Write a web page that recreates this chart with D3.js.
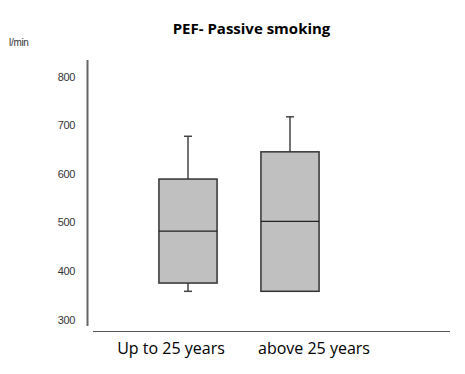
<!DOCTYPE html>
<html>
<head>
<meta charset="utf-8">
<script src="https://cdn.jsdelivr.net/npm/d3@7"></script>
<style>
  body { margin: 0; background: #fff; }
</style>
</head>
<body>
<svg id="chart" width="465" height="374"></svg>
<script>
// groups and box statistics (l/min)
var groups = ["Up to 25 years", "above 25 years"];
var whiskerLow = [358, 358];
var q1 = [375, 358];
var median = [482, 502];
var q3 = [589, 645];
var whiskerHigh = [677, 717];
var yTicks = [300, 400, 500, 600, 700, 800];
// the category labels sit a bit off the box centres in the original
var labelShift = [-17, 24];

var svg = d3.select("#chart");

var data = groups.map(function(g, i) {
    return {group: g, lo: whiskerLow[i], q1: q1[i], med: median[i], q3: q3[i], hi: whiskerHigh[i]};
});

// scales
var x = d3.scaleBand()
            .domain(groups)
            .range([137, 341])
            .paddingInner(0.43)
            .paddingOuter(0.215);

var y = d3.scaleLinear()
            .domain([300, 800])
            .range([319.5, 76.5]);

// title
svg.append("text")
    .attr("x", 251.5)
    .attr("y", 34)
    .attr("text-anchor", "middle")
    .style("font-family", "'Open Sans', sans-serif")
    .style("font-weight", "bold")
    .style("font-size", "15px")
    .text("PEF- Passive smoking");

// unit label
svg.append("text")
    .attr("x", 9)
    .attr("y", 46)
    .style("font-family", "'Liberation Sans', Arial, sans-serif")
    .style("font-size", "10px")
    .style("fill", "#333")
    .style("letter-spacing", "-0.3px")
    .text("l/min");

// y axis
var yAxis = svg.append("g")
    .attr("transform", "translate(88,0)")
    .call(d3.axisLeft(y).tickValues(yTicks).tickSize(0).tickPadding(13));
yAxis.select(".domain").remove();
yAxis.selectAll("text")
    .style("font-family", "'Liberation Sans', Arial, sans-serif")
    .style("font-size", "11px")
    .style("fill", "#333")
    .style("letter-spacing", "-0.4px");

svg.append("line")
    .attr("x1", 87.5).attr("x2", 87.5)
    .attr("y1", 60).attr("y2", 326)
    .style("stroke", "#666")
    .style("stroke-width", 2);

// x axis baseline
svg.append("line")
    .attr("x1", 93).attr("x2", 450)
    .attr("y1", 331.5).attr("y2", 331.5)
    .style("stroke", "#555")
    .style("stroke-width", 1.2);

var xAxis = svg.append("g")
    .attr("transform", "translate(0,331.5)")
    .call(d3.axisBottom(x).tickSize(0).tickPadding(11));
xAxis.select(".domain").remove();
xAxis.selectAll("text")
    .attr("dx", function(d, i) { return labelShift[i]; })
    .style("font-family", "'Open Sans', sans-serif")
    .style("font-size", "16px")
    .style("fill", "#000");

// boxes
var boxes = svg.selectAll(".box")
    .data(data)
    .enter()
    .append("g")
    .attr("class", "box");

var mid = function(d) { return x(d.group) + x.bandwidth() / 2; };

// whiskers
boxes.append("line")
    .attr("x1", mid).attr("x2", mid)
    .attr("y1", function(d) { return y(d.hi); })
    .attr("y2", function(d) { return y(d.q3); })
    .style("stroke", "#444").style("stroke-width", 1.5);

boxes.filter(function(d) { return d.lo < d.q1; })
    .append("line")
    .attr("x1", mid).attr("x2", mid)
    .attr("y1", function(d) { return y(d.q1); })
    .attr("y2", function(d) { return y(d.lo); })
    .style("stroke", "#444").style("stroke-width", 1.5);

// caps
boxes.append("line")
    .attr("x1", function(d) { return mid(d) - 4; })
    .attr("x2", function(d) { return mid(d) + 4; })
    .attr("y1", function(d) { return y(d.hi); })
    .attr("y2", function(d) { return y(d.hi); })
    .style("stroke", "#444").style("stroke-width", 1.5);

boxes.filter(function(d) { return d.lo < d.q1; })
    .append("line")
    .attr("x1", function(d) { return mid(d) - 4; })
    .attr("x2", function(d) { return mid(d) + 4; })
    .attr("y1", function(d) { return y(d.lo); })
    .attr("y2", function(d) { return y(d.lo); })
    .style("stroke", "#444").style("stroke-width", 1.5);

boxes.append("rect")
    .attr("x", function(d) { return x(d.group); })
    .attr("y", function(d) { return y(d.q3); })
    .attr("width", x.bandwidth())
    .attr("height", function(d) { return y(d.q1) - y(d.q3); })
    .style("fill", "#c0c0c0")
    .style("stroke", "#333")
    .style("stroke-width", 1.5);

// median
boxes.append("line")
    .attr("x1", function(d) { return x(d.group); })
    .attr("x2", function(d) { return x(d.group) + x.bandwidth(); })
    .attr("y1", function(d) { return y(d.med); })
    .attr("y2", function(d) { return y(d.med); })
    .style("stroke", "#222").style("stroke-width", 1.2);
</script>
</body>
</html>
